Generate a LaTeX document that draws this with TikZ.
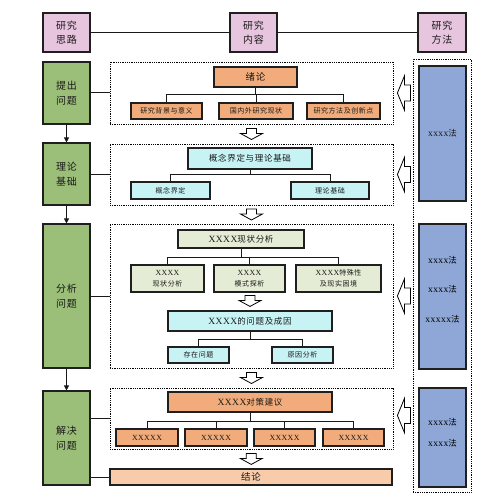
\documentclass[tikz,border=0pt]{standalone}
\usepackage{fontspec}
\setmainfont{Liberation Serif}
\newfontfamily\cjk[LetterSpace=8]{Noto Sans CJK SC}
\newfontfamily\latsp[LetterSpace=5,Scale=1.12]{Liberation Serif}
\usetikzlibrary{calc,arrows.meta}
\definecolor{pinkc}{HTML}{E8C5DF}
\definecolor{greenc}{HTML}{9BBE78}
\definecolor{orangec}{HTML}{F2AC7B}
\definecolor{lorange}{HTML}{F8CBAA}
\definecolor{cyanc}{HTML}{C8F3F5}
\definecolor{lgreen}{HTML}{E5ECD5}
\definecolor{bluec}{HTML}{8EA7D6}
\newcommand\bx[7]{\node[#2,minimum width={#5-#3},minimum height={#6-#4}] (#1) at ({(#3+#5)/2},{(#4+#6)/2}) {#7};}
\newcommand\X[1]{{\latsp #1}}
\begin{document}
\begin{tikzpicture}[x=1pt,y=-1pt,
  base/.style={draw=black!88,line width=1.1pt,inner sep=0pt,align=center,text=black!90},
  fbig/.style={font=\cjk\fontsize{9.5}{13}\selectfont},
  fmid/.style={font=\cjk\fontsize{8.5}{11}\selectfont},
  fsml/.style={font=\cjk\fontsize{7}{10.5}\selectfont},
  hdr/.style={base,fill=pinkc,font=\cjk\fontsize{10}{13.5}\selectfont},
  grn/.style={base,fill=greenc,font=\cjk\fontsize{10}{15}\selectfont},
  org/.style={base,fill=orangec},
  lorg/.style={base,fill=lorange},
  cyn/.style={base,fill=cyanc},
  lgr/.style={base,fill=lgreen},
  blu/.style={base,fill=bluec},
  dsh/.style={draw=black,densely dotted,line width=0.8pt,inner sep=0pt},
  btxt/.style={inner sep=0pt,align=center,font=\cjk\fontsize{8.5}{10}\selectfont},
  conn/.style={draw=black!90,line width=1pt},
  larr/.pic={\draw[fill=white,line width=0.8pt,line join=miter] (-6.5,0) -- (0.5,-17) -- (0.5,-8) -- (6.5,-8) -- (6.5,8) -- (0.5,8) -- (0.5,17) -- cycle;},
  darr/.pic={\draw[fill=white,line width=0.8pt,line join=miter] (-5,-5.5) -- (5,-5.5) -- (5,-0.5) -- (11,-0.5) -- (0,5.5) -- (-11,-0.5) -- (-5,-0.5) -- cycle;}
]
\fill[white] (0,0) rectangle (500,500);
\useasboundingbox (0,0) rectangle (500,500);
% headers
\bx{h1}{hdr}{43}{13}{90}{52}{研究\\思路}
\bx{h2}{hdr}{230}{13}{277}{52}{研究\\内容}
\bx{h3}{hdr}{418}{13}{466}{52}{研究\\方法}
\draw[conn] (h1) -- (h2);
\draw[conn] (h2) -- (h3);
% green column
\bx{g1}{grn}{43}{62}{90}{124}{提出\\问题}
\bx{g2}{grn}{43}{143}{90}{205}{理论\\基础}
\bx{g3}{grn}{43}{224}{90}{368}{分析\\问题}
\bx{g4}{grn}{43}{391}{90}{485}{解决\\问题}
\draw[conn,-{Triangle[length=5pt,width=5pt]}] (g1) -- (g2);
\draw[conn,-{Triangle[length=5pt,width=5pt]}] (g2) -- (g3);
\draw[conn,-{Triangle[length=5pt,width=5pt]}] (g3) -- (g4);
% dashed frames
\bx{d1}{dsh}{110}{62}{393}{124}{}
\bx{d2}{dsh}{110}{144}{393}{205}{}
\bx{d3}{dsh}{110}{224}{393}{368}{}
\bx{d4}{dsh}{110}{388}{393}{449}{}
\bx{rd}{dsh}{413}{59}{471}{492}{}
\bx{jl}{lorg,fbig}{110}{469}{392}{485}{结论}
\draw[conn] (g1.east) -- (g1.east -| d1.west);
\draw[conn] (g2.east) -- (g2.east -| d2.west);
\draw[conn] (g3.east) -- (g3.east -| d3.west);
\draw[conn] (g4.east |- d4.west) -- (d4.west);
\draw[conn] (g4.east |- jl.west) -- (jl.west);
% box 1
\bx{xl}{org,fbig}{214}{67}{297}{87}{绪论}
\bx{s1}{org,fsml}{131}{103}{202}{119}{研究背景与意义}
\bx{s2}{org,fsml}{219}{103}{293}{119}{国内外研究现状}
\bx{s3}{org,fsml}{307}{103}{380}{119}{研究方法及创新点}
\draw[conn] (xl.south) -- ++(0,7) coordinate (t1);
\draw[conn] (s1.north) |- (t1) -| (s3.north);
\draw[conn] (s2.north) -- (s2.north |- t1);
% box 2
\bx{gn}{cyn,fmid}{188}{148}{312}{169}{概念界定与理论基础}
\bx{c1}{cyn,fsml}{131}{182}{210}{199}{概念界定}
\bx{c2}{cyn,fsml}{291}{182}{369}{199}{理论基础}
\draw[conn] (gn.south) -- ++(0,5) coordinate (t2);
\draw[conn] (c1.north) |- (t2) -| (c2.north);
% box 3
\bx{xz}{lgr,fmid}{178}{230}{304}{248}{\X{XXXX}现状分析}
\bx{r1}{lgr,fsml}{131}{265}{204}{292}{\X{XXXX}\\现状分析}
\bx{r2}{lgr,fsml}{214}{265}{285}{292}{\X{XXXX}\\模式探析}
\bx{r3}{lgr,fsml}{296}{265}{381}{292}{\X{XXXX}特殊性\\及现实困境}
\draw[conn] (xz.south) -- ++(0,9) coordinate (t3);
\draw[conn] (r1.north) |- (t3) -| (r3.north);
\draw[conn] (r2.north) -- (r2.north |- t3);
\bx{q}{cyn,fmid}{168}{311}{332}{331}{\X{XXXX}的问题及成因}
\bx{p1}{cyn,fsml}{168}{347}{229}{363}{存在问题}
\bx{p2}{cyn,fsml}{272}{347}{333}{363}{原因分析}
\draw[conn] (q.south) -- ++(0,8) coordinate (t4);
\draw[conn] (p1.north) |- (t4) -| (p2.north);
% box 4
\bx{dc}{org,fmid}{168}{392}{332}{412}{\X{XXXX}对策建议}
\bx{k1}{org,fsml}{116}{429}{178}{446}{\X{XXXXX}}
\bx{k2}{org,fsml}{185}{429}{247}{446}{\X{XXXXX}}
\bx{k3}{org,fsml}{254}{429}{315}{446}{\X{XXXXX}}
\bx{k4}{org,fsml}{323}{429}{384}{446}{\X{XXXXX}}
\draw[conn] (dc.south) -- ++(0,9) coordinate (t5);
\draw[conn] (k1.north) |- (t5) -| (k4.north);
\draw[conn] (k2.north) -- (k2.north |- t5);
\draw[conn] (k3.north) -- (k3.north |- t5);
% blue column
\bx{b1}{blu,btxt}{419}{66}{466}{201}{\X{xxxx}法}
\bx{b2}{blu}{419}{224}{466}{369}{}
\bx{b3}{blu}{419}{388}{466}{487}{}
\node[btxt,font=\cjk\fontsize{8.5}{29.5}\selectfont] (b2t) at (442.5,289.5) {\X{xxxx}法\\\X{xxxx}法\\\X{xxxxx}法};
\node[btxt,font=\cjk\fontsize{8.5}{21}\selectfont] (b3t) at (442.5,432.5) {\X{xxxx}法\\\X{xxxx}法};
% block arrows
\pic at ($(d1.east)+(10.5,0)$) {larr};
\pic at ($(d2.east)+(10.5,0)$) {larr};
\pic at ($(d3.east)+(10.5,0)$) {larr};
\pic at ($(d4.east)+(10.5,-3)$) {larr};
\pic at ($(d1.south)!.5!(d2.north)$) {darr};
\pic at ($(d2.south)!.5!(d3.north)$) {darr};
\pic at ($(d3.south)!.5!(d4.north)$) {darr};
\pic at ($(d4.south)!.5!(jl.north)$) {darr};
\pic at ($(q.north)+(0,-9.5)$) {darr};
\end{tikzpicture}
\end{document}
